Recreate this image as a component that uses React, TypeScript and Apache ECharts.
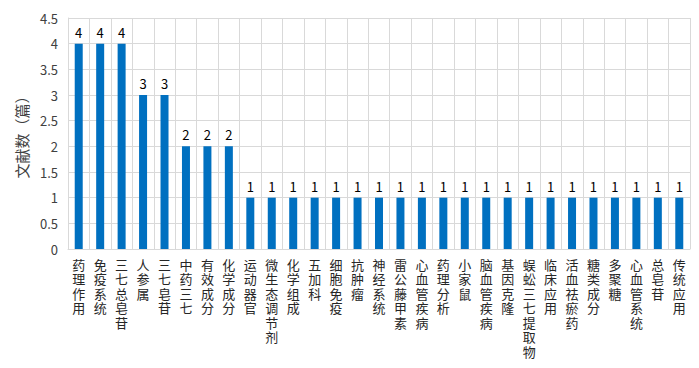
import React, { useEffect, useRef } from "react";
import * as echarts from "echarts";

const categories = [
  "药理作用", "免疫系统", "三七总皂苷", "人参属", "三七皂苷", "中药三七", "有效成分", "化学成分",
  "运动器官", "微生态调节剂", "化学组成", "五加科", "细胞免疫", "抗肿瘤", "神经系统", "雷公藤甲素",
  "心血管疾病", "药理分析", "小家鼠", "脑血管疾病", "基因克隆", "蜈蚣三七提取物", "临床应用",
  "活血祛瘀药", "糖类成分", "多聚糖", "心血管系统", "总皂苷", "传统应用",
];
const values = [4, 4, 4, 3, 3, 2, 2, 2, 1, 1, 1, 1, 1, 1, 1, 1, 1, 1, 1, 1, 1, 1, 1, 1, 1, 1, 1, 1, 1];
const yAxisName = "文献数（篇）";

export default function App() {
  const ref = useRef<HTMLDivElement>(null);
  useEffect(() => {
    if (!ref.current) return;
    const chart = echarts.init(ref.current, undefined, { renderer: "svg" });
    const font = "'Noto Sans CJK SC', 'Noto Sans', sans-serif";
    chart.setOption({
      animation: false,
      textStyle: { fontFamily: font },
      grid: { left: 68, right: 9, top: 18, bottom: 119, containLabel: false },
      xAxis: {
        type: "category",
        data: categories,
        boundaryGap: true,
        axisLine: { show: true, lineStyle: { color: "#d9d9d9", width: 1 } },
        axisTick: { show: false },
        splitLine: { show: true, interval: 0, lineStyle: { color: "#d9d9d9", width: 1 } },
        axisLabel: {
          interval: 0,
          color: "#262626",
          fontSize: 13,
          lineHeight: 14.5,
          margin: 8,
          verticalAlign: "top",
          fontFamily: font,
          formatter: (v: string) => v.split("").join("\n"),
        },
      },
      yAxis: {
        type: "value",
        min: 0,
        max: 4.5,
        interval: 0.5,
        name: yAxisName,
        nameLocation: "middle",
        nameRotate: 90,
        nameGap: 36,
        nameTextStyle: { color: "#404040", fontSize: 15, fontFamily: font },
        axisLine: { show: true, lineStyle: { color: "#d9d9d9" } },
        axisTick: { show: false },
        splitLine: { show: true, lineStyle: { color: "#d9d9d9", width: 1 } },
        axisLabel: { color: "#404040", fontSize: 13, margin: 10, fontFamily: font },
      },
      series: [
        {
          type: "bar",
          data: values,
          barWidth: 8,
          itemStyle: { color: "#0070C0" },
          label: {
            show: true,
            position: "top",
            distance: 5,
            color: "#000",
            fontSize: 13,
            fontFamily: font,
          },
        },
      ],
    });
    return () => chart.dispose();
  }, []);
  return <div ref={ref} style={{ width: 699, height: 368, position: "absolute", left: 0, top: 0 }} />;
}
